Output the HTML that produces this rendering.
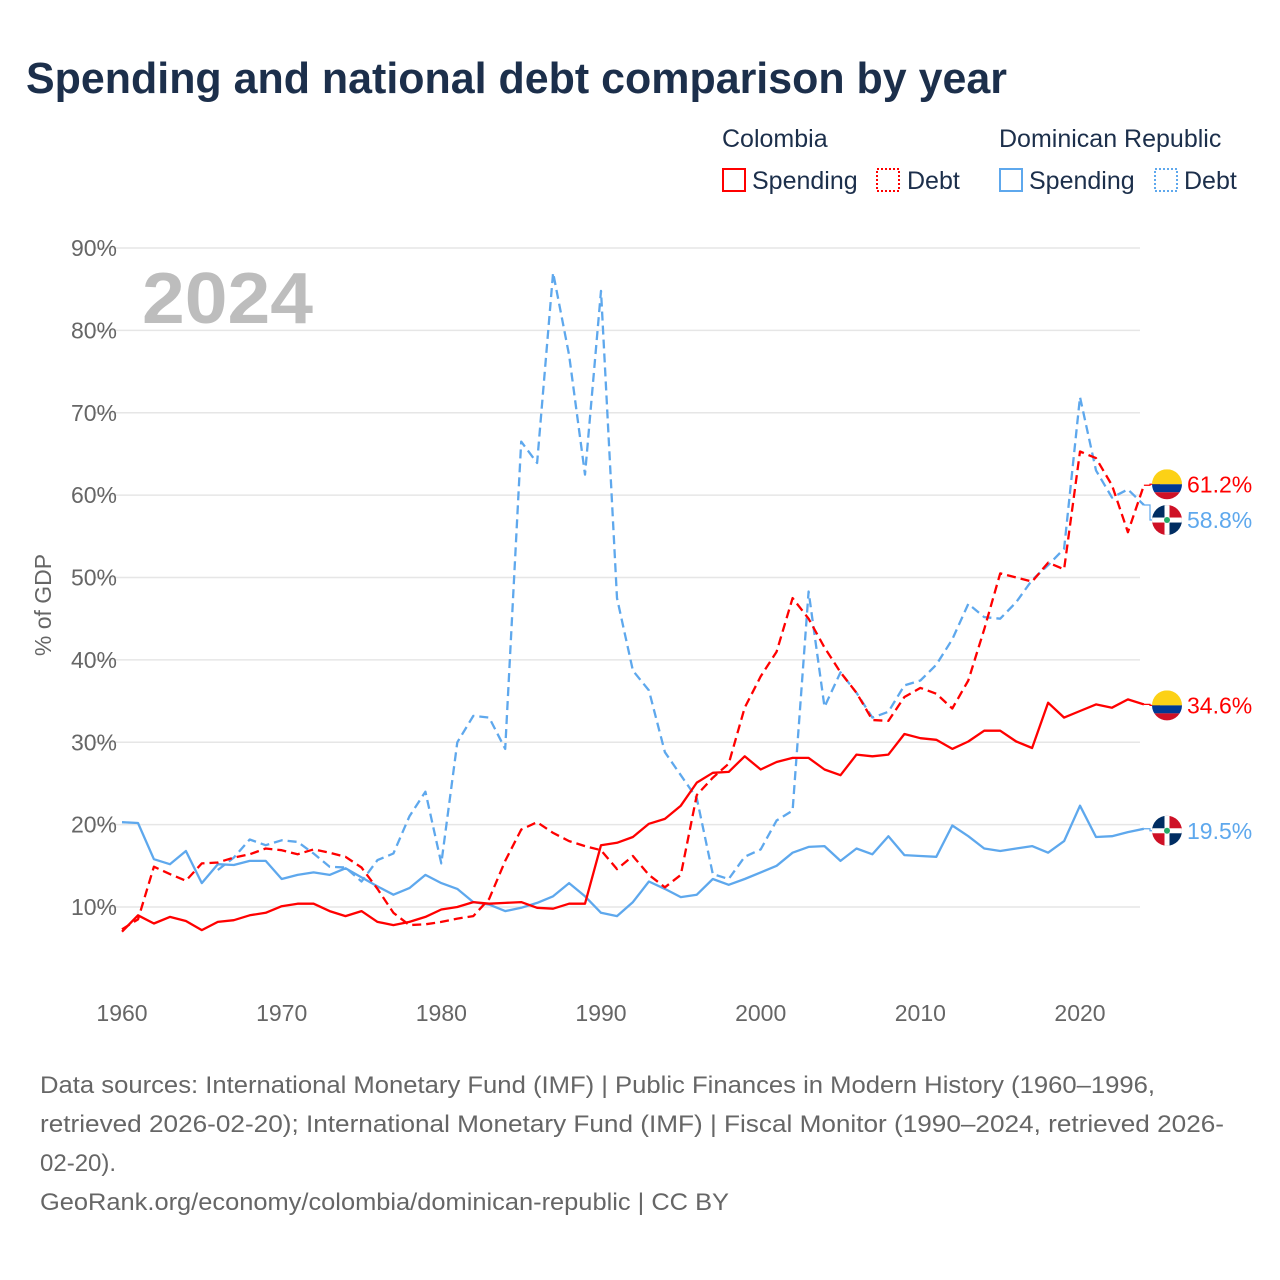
<!DOCTYPE html>
<html><head><meta charset="utf-8">
<style>
body{margin:0;width:1280px;height:1280px;background:#fff;font-family:"Liberation Sans",sans-serif;overflow:hidden}
svg{position:absolute;left:0;top:0}
</style></head>
<body>
<svg id="chart" width="1280" height="1280">
<text x="26" y="93" font-size="44" font-weight="bold" fill="#1c2f4b" textLength="981" lengthAdjust="spacingAndGlyphs">Spending and national debt comparison by year</text>
<g font-size="25" fill="#1c2f4b">
<text x="722" y="147">Colombia</text>
<text x="999" y="147">Dominican Republic</text>
<g><rect x="723" y="169" width="22" height="22" fill="none" stroke="#ff0000" stroke-width="2"/><text x="752" y="189">Spending</text></g>
<g><rect x="877" y="169" width="22" height="22" fill="none" stroke="#ff0000" stroke-width="2" stroke-dasharray="2,2"/><text x="907" y="189">Debt</text></g>
<g><rect x="1000" y="169" width="22" height="22" fill="none" stroke="#5ea8ed" stroke-width="2"/><text x="1029" y="189">Spending</text></g>
<g><rect x="1155" y="169" width="22" height="22" fill="none" stroke="#5ea8ed" stroke-width="2" stroke-dasharray="2,2"/><text x="1184" y="189">Debt</text></g>
</g>
<g id="grid"></g>
<text x="142" y="323" font-size="72" font-weight="bold" fill="#bdbdbd" textLength="171" lengthAdjust="spacingAndGlyphs">2024</text>
<text transform="translate(51,605) rotate(-90)" text-anchor="middle" font-size="23" fill="#666">% of GDP</text>
<g id="series"></g>
<g id="ends"></g>
<g font-size="24" fill="#666">
<text x="40" y="1093" textLength="1115" lengthAdjust="spacingAndGlyphs">Data sources: International Monetary Fund (IMF) | Public Finances in Modern History (1960–1996,</text>
<text x="40" y="1132" textLength="1184" lengthAdjust="spacingAndGlyphs">retrieved 2026-02-20); International Monetary Fund (IMF) | Fiscal Monitor (1990–2024, retrieved 2026-</text>
<text x="40" y="1171">02-20).</text>
<text x="40" y="1210" textLength="689" lengthAdjust="spacingAndGlyphs">GeoRank.org/economy/colombia/dominican-republic | CC BY</text>
</g>
</svg>
<script>
const yTicks=[10,20,30,40,50,60,70,80,90];
const xTicks=[1960,1970,1980,1990,2000,2010,2020];
const coSpending=[7.0,9.0,8.0,8.8,8.3,7.2,8.2,8.4,9.0,9.3,10.1,10.4,10.4,9.5,8.9,9.5,8.2,7.8,8.2,8.8,9.7,10.0,10.6,10.4,10.5,10.6,9.9,9.8,10.4,10.4,17.5,17.8,18.5,20.1,20.7,22.3,25.1,26.3,26.4,28.3,26.7,27.6,28.1,28.1,26.7,26.0,28.5,28.3,28.5,31.0,30.5,30.3,29.2,30.1,31.4,31.4,30.1,29.3,34.8,33.0,33.8,34.6,34.2,35.2,34.6];
const coDebt=[7.3,8.5,14.9,14.0,13.2,15.3,15.4,16.0,16.4,17.1,16.9,16.4,17.0,16.6,16.1,14.8,12.2,9.3,7.8,7.9,8.2,8.6,8.9,11.0,15.6,19.4,20.3,19.0,18.0,17.4,16.9,14.6,16.2,13.9,12.4,13.9,23.6,25.7,27.4,34.2,38.0,41.0,47.5,45.0,41.5,38.5,36.0,32.7,32.6,35.5,36.6,35.9,34.1,37.5,43.7,50.5,50.0,49.5,51.8,51.0,65.3,64.5,61.2,55.5,61.2];
const drSpending=[20.3,20.2,15.8,15.2,16.8,12.9,15.2,15.1,15.6,15.6,13.4,13.9,14.2,13.9,14.7,13.6,12.5,11.5,12.3,13.9,12.9,12.2,10.6,10.3,9.5,9.9,10.5,11.3,12.9,11.3,9.3,8.9,10.6,13.1,12.2,11.2,11.5,13.4,12.7,13.4,14.2,15.0,16.6,17.3,17.4,15.6,17.1,16.4,18.6,16.3,16.2,16.1,19.9,18.6,17.1,16.8,17.1,17.4,16.6,18.0,22.3,18.5,18.6,19.1,19.5];
const drDebt=[null,null,null,null,null,null,14.5,16.0,18.2,17.5,18.1,17.9,16.5,14.9,14.8,13.1,15.7,16.5,21.0,24.0,15.3,30.0,33.2,33.0,29.2,66.5,63.9,87.0,77.0,62.5,84.8,47.5,38.7,36.3,28.8,26.0,23.2,14.0,13.4,16.1,17.0,20.5,21.7,48.3,34.3,38.5,36.0,33.0,33.7,36.9,37.5,39.4,42.5,46.8,45.2,45.0,47.0,49.7,51.5,53.5,71.9,63.0,59.7,60.7,58.8];
const startYear=1960;
const NS='http://www.w3.org/2000/svg';
const xs=yr=>122+(yr-1960)*15.967;
const ys=v=>989.4-v*8.2375;
function mk(tag,attrs,parent){const e=document.createElementNS(NS,tag);for(const k in attrs)e.setAttribute(k,attrs[k]);parent.appendChild(e);return e;}
const grid=document.getElementById('grid');
yTicks.forEach(t=>{
  const l=mk('line',{x1:95,x2:1140,y1:ys(t),y2:ys(t),stroke:'#e6e6e6','stroke-width':1.5},grid);
  
  
  const tx=mk('text',{x:117,y:ys(t)+8,'text-anchor':'end','font-size':23,fill:'#666'},grid);
  tx.textContent=t+'%';
  
  
});
xTicks.forEach(t=>{
  const tx=mk('text',{x:xs(t),y:1021,'text-anchor':'middle','font-size':23,fill:'#666'},grid);
  tx.textContent=t;
  
  
});
const ser=document.getElementById('series');
function line(data,color,dash,name){
  let d='';let pen=false;
  data.forEach((v,i)=>{if(v==null){pen=false;return;}d+=(pen?'L':'M')+xs(startYear+i).toFixed(1)+','+ys(v).toFixed(1);pen=true;});
  const p=mk('path',{d:d,fill:'none',stroke:color,'stroke-width':2.3,'stroke-linejoin':'round'},ser);
  if(dash)p.setAttribute('stroke-dasharray','9,5');
  
  
}
line(drDebt,'#5ea8ed',true,'dr-debt-line');
line(drSpending,'#5ea8ed',false,'dr-spending-line');
line(coDebt,'#ff0000',true,'colombia-debt-line');
line(coSpending,'#ff0000',false,'colombia-spending-line');
const ends=document.getElementById('ends');
const defs=mk('defs',{},ends);
const cp=mk('clipPath',{id:'fc'},defs);mk('circle',{cx:0,cy:0,r:15},cp);
function flag(y,lastV,type,labelVal,color,name){
  const c=mk('polyline',{points:xs(2024)+','+ys(lastV)+' 1150,'+ys(lastV)+' 1150,'+y+' 1160,'+y,fill:'none',stroke:color,'stroke-width':1.2},ends);
  
  
  const g=mk('g',{transform:'translate(1167,'+y+')','clip-path':'url(#fc)'},ends);
  
  
  if(type==='co'){mk('rect',{x:-15,y:-15,width:30,height:15,fill:'#fcd116'},g);mk('rect',{x:-15,y:0,width:30,height:8,fill:'#003893'},g);mk('rect',{x:-15,y:8,width:30,height:8,fill:'#ce1126'},g);}
  else{mk('rect',{x:-15,y:-15,width:15,height:15,fill:'#002d62'},g);mk('rect',{x:0,y:-15,width:15,height:15,fill:'#ce1126'},g);mk('rect',{x:-15,y:0,width:15,height:15,fill:'#ce1126'},g);mk('rect',{x:0,y:0,width:15,height:15,fill:'#002d62'},g);mk('rect',{x:-15,y:-2.5,width:30,height:5,fill:'#fff'},g);mk('rect',{x:-2.5,y:-15,width:5,height:30,fill:'#fff'},g);mk('circle',{cx:0,cy:0,r:3,fill:'#2a6'},g);}
  const t=mk('text',{x:1187,y:y+8,'font-size':23,fill:color},ends);
  t.textContent=labelVal.toFixed(1)+'%';
  
  
}
const L=a=>a[a.length-1];
flag(ys(L(coDebt))-1,L(coDebt),'co',L(coDebt),'#ff0000','colombia-debt');
flag(ys(L(drDebt))+15,L(drDebt),'dr',L(drDebt),'#5ea8ed','dr-debt');
flag(ys(L(coSpending))+1,L(coSpending),'co',L(coSpending),'#ff0000','colombia-spending');
flag(ys(L(drSpending))+2,L(drSpending),'dr',L(drSpending),'#5ea8ed','dr-spending');
</script>
</body></html>
